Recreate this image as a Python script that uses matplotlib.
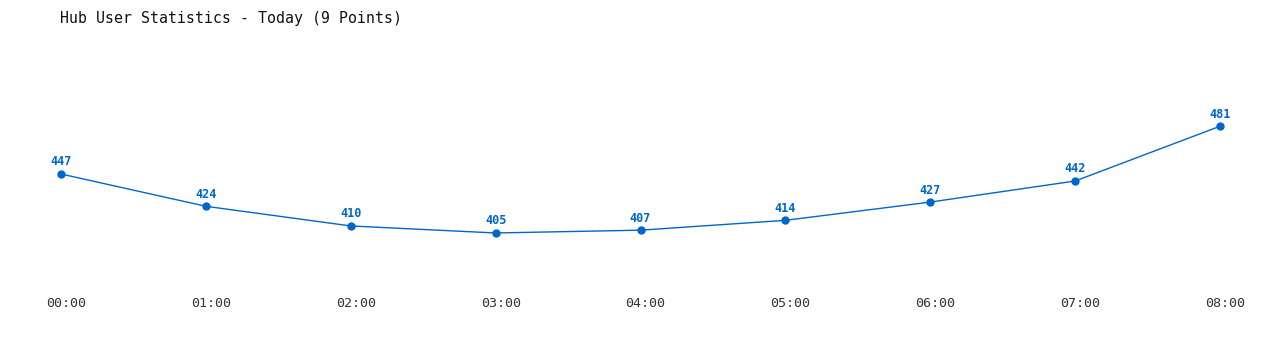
import matplotlib
matplotlib.use("Agg")
import matplotlib.pyplot as plt
import matplotlib.transforms as mtransforms

hours = ["00:00", "01:00", "02:00", "03:00", "04:00", "05:00", "06:00", "07:00", "08:00"]
users = [447, 424, 410, 405, 407, 414, 427, 442, 481]
title = "Hub User Statistics - Today (9 Points)"

W, H = 1280, 350
fig = plt.figure(figsize=(W / 100, H / 100), dpi=100)
fig.patch.set_facecolor("white")

# axes pixel box: x 61..1220, y (from top) 40..290
left, right = 61, 1220
top, bottom = 40, 290
ax = fig.add_axes([left / W, 1 - bottom / H, (right - left) / W, (bottom - top) / H])
ax.set_facecolor("none")

xs = list(range(len(hours)))
color = "#0066CC"
ax.plot(xs, users, color=color, lw=1.0, marker="o", ms=5, mfc=color, mec=color,
        clip_on=False)
ax.set_xlim(0, len(hours) - 1)
ax.set_ylim(364.4, 542.4)

for x, v in zip(xs, users):
    ax.annotate(str(v), (x, v), xytext=(0, 4), textcoords="offset points",
                ha="center", va="bottom", color=color, fontsize=8.5,
                fontweight="bold", family="DejaVu Sans Mono")

ax.set_xticks(xs)
ax.set_xticklabels(hours, family="DejaVu Sans Mono", fontsize=9.6, color="#333333")
ax.tick_params(axis="x", length=0, pad=5)
offset = mtransforms.ScaledTranslation(5 / 100, 0, fig.dpi_scale_trans)
for lbl in ax.get_xticklabels():
    lbl.set_transform(lbl.get_transform() + offset)
ax.set_yticks([])
for s in ax.spines.values():
    s.set_visible(False)

fig.text(60 / W, 1 - 18 / H, title, ha="left", va="center",
         family="DejaVu Sans Mono", fontsize=10.75, color="#111111")

fig.savefig("out.png", dpi=100, facecolor="white")
